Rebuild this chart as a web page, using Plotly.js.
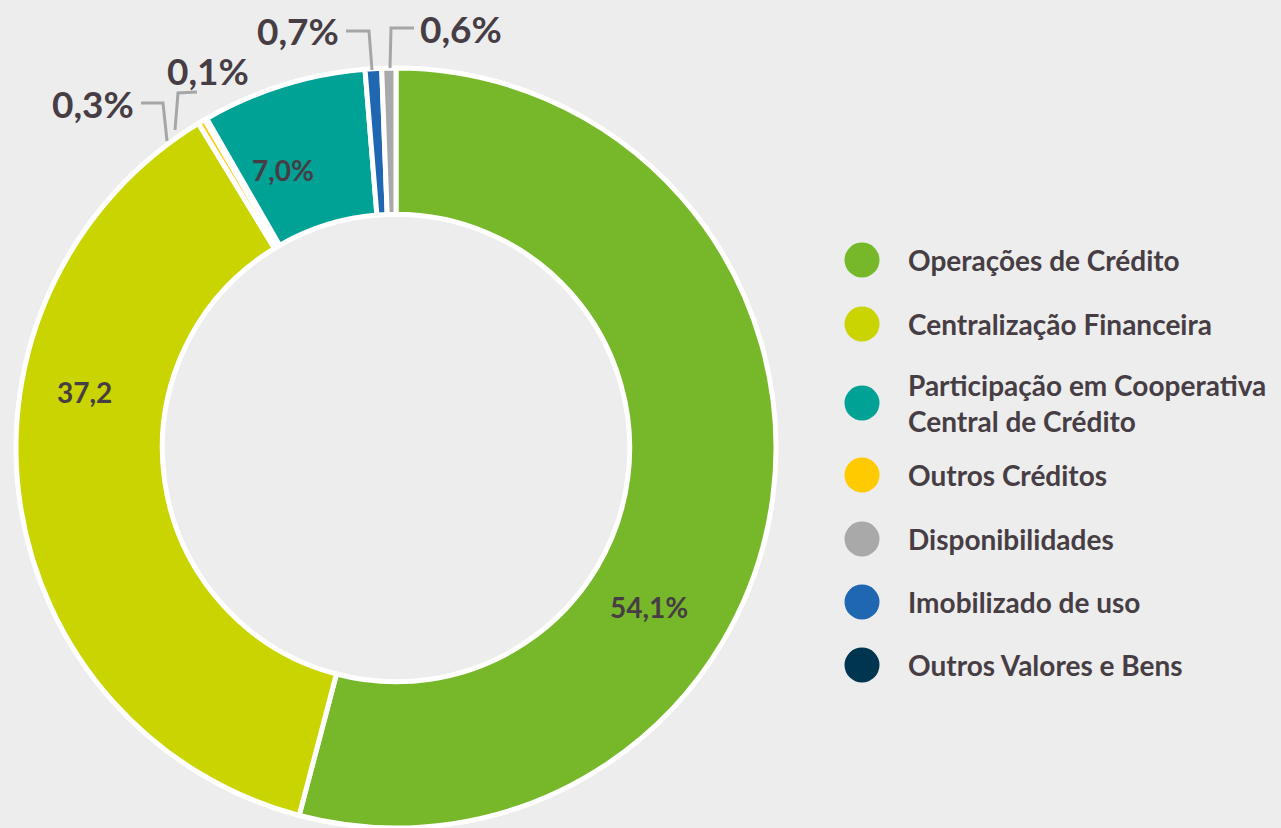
<!DOCTYPE html>
<html>
<head>
<meta charset="utf-8">
<script src="https://cdn.plot.ly/plotly-3.0.1.min.js"></script>
<style>
html,body{margin:0;padding:0;background:#ededed;}
#chart{width:1281px;height:828px;}
</style>
</head>
<body>
<div id="chart"></div>
<script>
// Slice data in clockwise order from 12 o'clock
const sliceNames = ["Operações de Crédito","Centralização Financeira","Outros Créditos","Outros Valores e Bens","Participação em Cooperativa Central de Crédito","Imobilizado de uso","Disponibilidades"];
const sliceValues = [54.1, 37.2, 0.3, 0.1, 7.0, 0.7, 0.6];
const sliceLabels = ["54,1%","37,2","0,3%","0,1%","7,0%","0,7%","0,6%"];
const sliceColors = ["#77b82a","#c9d400","#ffcb00","#00354f","#00a295","#1f68b1","#a9a9a9"];

// Legend (order as in reference)
const legendNames = ["Operações de Crédito","Centralização Financeira","Participação em Cooperativa<br>Central de Crédito","Outros Créditos","Disponibilidades","Imobilizado de uso","Outros Valores e Bens"];
const legendColors = ["#77b82a","#c9d400","#00a295","#ffcb00","#a9a9a9","#1f68b1","#00354f"];

const W = 1281, H = 828;
const px = x => x / W;
const py = y => 1 - y / H;

// label placement (pixels) : inside labels and outside labels
const labelPos = [[649,607,28],[84,392,28],[93,103,37],[208,70,37],[283,170,28],[298,31,37],[461,28,37]];
const leaderPaths = [
  null, null,
  [[141,103],[163,103],[167,141]],
  [[197,92],[178,93],[175,130]],
  null,
  [[346,31],[369,31],[372,70]],
  [[414,28],[391,28],[390,68]]
];

const textColor = "#473d44";
const fontFam = "Lato, 'Open Sans', sans-serif";

const annotations = [];
const shapes = [];
sliceLabels.forEach((t,i) => {
  const p = labelPos[i];
  annotations.push({xref:'paper',yref:'paper',x:px(p[0]),y:py(p[1]),text:'<b>'+t+'</b>',showarrow:false,
    xanchor:'center',yanchor:'middle',font:{family:fontFam,size:p[2],color:textColor}});
  const lp = leaderPaths[i];
  if (lp) {
    const d = lp.map((q,k)=>(k?'L':'M')+px(q[0])+','+py(q[1])).join(' ');
    shapes.push({type:'path',xref:'paper',yref:'paper',path:d,line:{color:'#a6a6a6',width:3}});
  }
});

// custom legend
const legendY = [260,324,403,475,539,602,665];
legendNames.forEach((n,i) => {
  const cy = legendY[i], cx = 862, r = 17.5;
  shapes.push({type:'circle',xref:'paper',yref:'paper',x0:px(cx-r),x1:px(cx+r),y0:py(cy+r),y1:py(cy-r),
    fillcolor:legendColors[i],line:{width:0}});
  annotations.push({xref:'paper',yref:'paper',x:px(906),y:py(cy),text:'<b>'+n+'</b>',showarrow:false,
    xanchor:'left',yanchor:'middle',align:'left',font:{family:fontFam,size:28,color:textColor}});
});

const trace = {
  type:'pie',
  labels: sliceNames,
  values: sliceValues,
  sort:false,
  direction:'clockwise',
  rotation:0,
  hole:0.615,
  textinfo:'none',
  hoverinfo:'label+percent',
  showlegend:false,
  marker:{colors:sliceColors,line:{color:'#ffffff',width:5}},
  domain:{x:[px(16),px(776)],y:[0,1-68/H]}
};

const layout = {
  width:W,height:H,
  margin:{l:0,r:0,t:0,b:0},
  paper_bgcolor:'#ededed',
  plot_bgcolor:'#ededed',
  showlegend:false,
  annotations:annotations,
  shapes:shapes
};

Plotly.newPlot('chart',[trace],layout,{displayModeBar:false,staticPlot:true});
</script>
</body>
</html>
